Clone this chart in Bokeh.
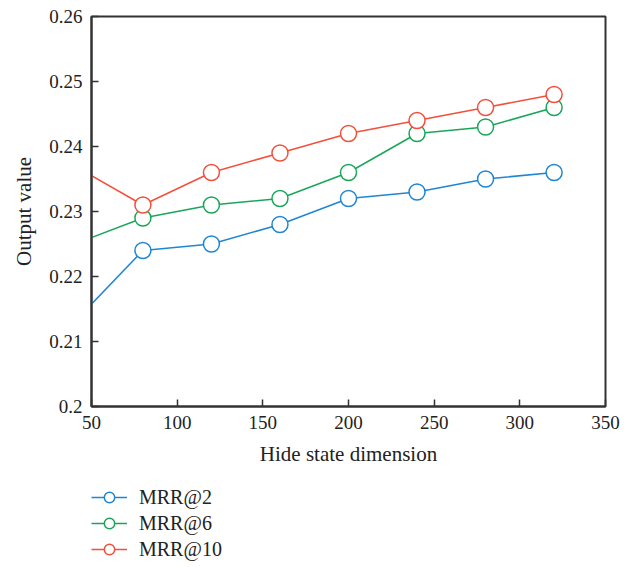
from bokeh.plotting import figure
from bokeh.layouts import column
from bokeh.models import FixedTicker, CustomJSTickFormatter, Legend, LegendItem, Range1d
from bokeh.embed import file_html
from bokeh.resources import INLINE

dims = [40, 80, 120, 160, 200, 240, 280, 320]
mrr2 = [0.213, 0.224, 0.225, 0.228, 0.232, 0.233, 0.235, 0.236]
mrr6 = [0.225, 0.229, 0.231, 0.232, 0.236, 0.242, 0.243, 0.246]
mrr10 = [0.237, 0.231, 0.236, 0.239, 0.242, 0.244, 0.246, 0.248]
series = [("MRR@2", mrr2, "#1f86d2"), ("MRR@6", mrr6, "#1aa65a"), ("MRR@10", mrr10, "#f2503b")]
x_ticks = [50, 100, 150, 200, 250, 300, 350]
y_ticks = [0.2, 0.21, 0.22, 0.23, 0.24, 0.25, 0.26]

FONT = "Liberation Serif"

p = figure(width=634, height=468, output_backend="svg", toolbar_location=None,
           x_range=Range1d(50, 350), y_range=Range1d(0.2, 0.26),
           min_border_left=91, min_border_right=29, min_border_top=16, min_border_bottom=62)
p.grid.visible = False
p.outline_line_color = "#333333"
p.outline_line_width = 2
p.background_fill_color = "white"
p.border_fill_color = "white"

for ax in (p.xaxis[0], p.yaxis[0]):
    ax.axis_line_color = "#333333"
    ax.axis_line_width = 2
    ax.major_tick_in = 7
    ax.major_tick_out = 0
    ax.major_tick_line_color = "#333333"
    ax.major_tick_line_width = 1.5
    ax.minor_tick_line_color = None
    ax.major_label_text_font = FONT
    ax.major_label_text_font_size = "19px"
    ax.major_label_text_color = "#222222"
    ax.axis_label_text_font = FONT
    ax.axis_label_text_font_size = "21px"
    ax.axis_label_text_font_style = "normal"
    ax.axis_label_text_color = "#222222"

p.xaxis.ticker = FixedTicker(ticks=x_ticks)
p.yaxis.ticker = FixedTicker(ticks=y_ticks)
p.yaxis.formatter = CustomJSTickFormatter(code="return (Math.round(tick*100)/100).toString();")
p.xaxis.axis_label = "Hide state dimension"
p.yaxis.axis_label = "Output value"
p.xaxis.major_label_standoff = 9
p.yaxis.major_label_standoff = 9
p.xaxis.axis_label_standoff = 10
p.yaxis.axis_label_standoff = 10

for name, vals, color in series:
    p.line(dims, vals, line_color=color, line_width=1.5)
    p.scatter(dims, vals, marker="circle", size=16, fill_color="white",
              line_color=color, line_width=1.5)

# legend in a separate strip below the chart (proxy glyphs lie outside the visible range)
p2 = figure(width=634, height=99, output_backend="svg", toolbar_location=None,
            x_range=Range1d(0, 1), y_range=Range1d(0, 1),
            min_border_left=0, min_border_right=0, min_border_top=0, min_border_bottom=0)
p2.axis.visible = False
p2.grid.visible = False
p2.outline_line_color = None
p2.background_fill_color = "white"
p2.border_fill_color = "white"
items = []
for name, vals, color in series:
    l = p2.line([-5, -4], [-5, -4], line_color=color, line_width=1.5)
    c = p2.scatter([-5], [-5], marker="circle", size=16, fill_color="white",
                   line_color=color, line_width=1.5)
    items.append(LegendItem(label=name, renderers=[l, c]))

legend = Legend(items=items, location=(0, 5), orientation="vertical",
                label_text_font=FONT, label_text_font_size="20px",
                label_text_color="#222222",
                glyph_width=36, glyph_height=26, spacing=0, padding=0,
                margin=0, border_line_color=None, background_fill_alpha=0,
                label_standoff=12)
p2.add_layout(legend, "center")

layout = column(p, p2, spacing=0)
open("out.html", "w").write(file_html(layout, INLINE))
